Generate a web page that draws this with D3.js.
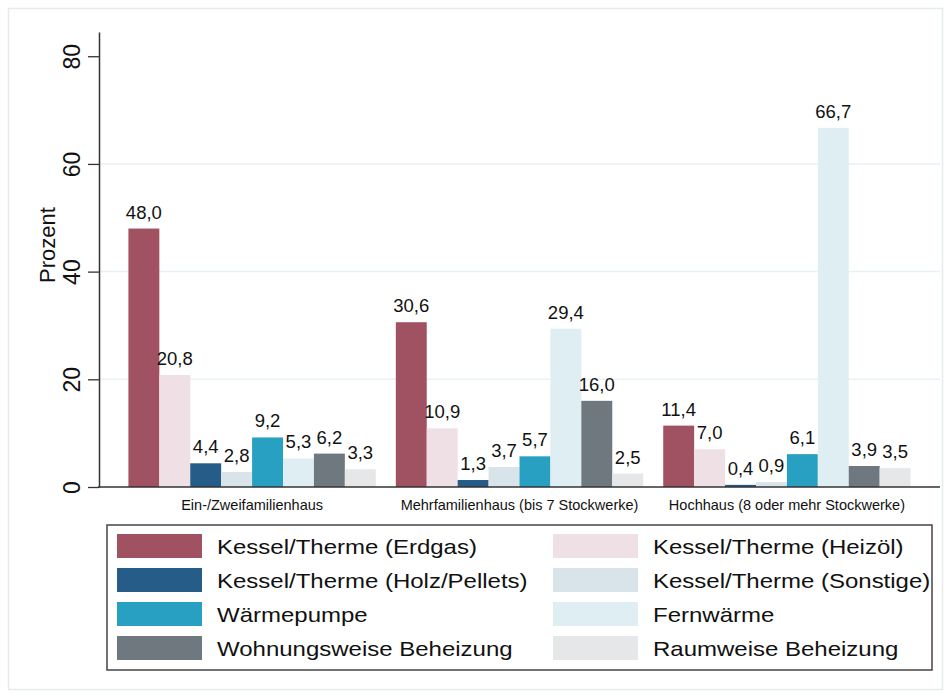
<!DOCTYPE html>
<html><head><meta charset="utf-8">
<script src="https://cdn.jsdelivr.net/npm/d3@7"></script>
<style>body{margin:0;background:#fff}svg{display:block}text{font-family:"Liberation Sans",Arial,sans-serif;fill:#111}</style>
</head><body>
<svg id="c" width="951" height="697"></svg>
<script>
const categories = ["Ein-/Zweifamilienhaus", "Mehrfamilienhaus (bis 7 Stockwerke)", "Hochhaus (8 oder mehr Stockwerke)"];
const seriesNames = ["Kessel/Therme (Erdgas)", "Kessel/Therme (Heizöl)", "Kessel/Therme (Holz/Pellets)", "Kessel/Therme (Sonstige)", "Wärmepumpe", "Fernwärme", "Wohnungsweise Beheizung", "Raumweise Beheizung"];
const seriesColors = ["#a05262", "#eee0e4", "#265d88", "#d9e3ea", "#27a0c1", "#dfeef2", "#6e787e", "#e6e7e9"];
const valuesEin = [48.0, 20.8, 4.4, 2.8, 9.2, 5.3, 6.2, 3.3];
const valuesMehr = [30.6, 10.9, 1.3, 3.7, 5.7, 29.4, 16.0, 2.5];
const valuesHoch = [11.4, 7.0, 0.4, 0.9, 6.1, 66.7, 3.9, 3.5];
const yTicks = [0, 20, 40, 60, 80];
const gridTicks = [20, 40, 60];

const values = [valuesEin, valuesMehr, valuesHoch];
const svg = d3.select("#c");
const loc = d3.formatLocale({decimal: ",", thousands: ".", grouping: [3], currency: ["", "€"]});
const fmt = loc.format(".1f");

// outer frame
svg.append("rect").attr("x", 8.5).attr("y", 8.5).attr("width", 934).attr("height", 681)
  .attr("fill", "none").attr("stroke", "#e3ebee").attr("stroke-width", 1.5);

const y = d3.scaleLinear().domain([0, 84.5]).range([487, 32]);
const x0 = d3.scaleBand().domain(categories).range([99, 940]).paddingInner(0.075).paddingOuter(0.11);
const x1 = d3.scaleBand().domain(seriesNames).range([0, x0.bandwidth()]).padding(0);

// gridlines
svg.append("g").selectAll("line").data(gridTicks).join("line")
  .attr("x1", 100).attr("x2", 940).attr("y1", d => y(d)).attr("y2", d => y(d))
  .attr("stroke", "#e8f1f4").attr("stroke-width", 1.5);

// bars
const groups = svg.append("g").selectAll("g").data(categories).join("g")
  .attr("transform", d => `translate(${x0(d)},0)`);
groups.selectAll("rect").data((d, i) => values[i].map((v, j) => ({v, s: seriesNames[j], c: seriesColors[j]})))
  .join("rect")
  .attr("x", d => x1(d.s)).attr("width", x1.bandwidth())
  .attr("y", d => y(d.v)).attr("height", d => y(0) - y(d.v))
  .attr("fill", d => d.c);
groups.selectAll("text.val").data((d, i) => values[i].map((v, j) => ({v, s: seriesNames[j]})))
  .join("text").attr("class", "val")
  .attr("x", d => x1(d.s) + x1.bandwidth() / 2).attr("y", d => y(d.v) - 10)
  .attr("text-anchor", "middle").style("font-size", "18.5px")
  .text(d => fmt(d.v));

// y axis
const yAxis = svg.append("g").attr("transform", "translate(99,0)")
  .call(d3.axisLeft(y).tickValues(yTicks).tickSize(11).tickSizeOuter(0).tickPadding(0));
yAxis.select(".domain").attr("stroke", "#333").attr("stroke-width", 1.5);
yAxis.selectAll(".tick line").attr("stroke", "#333").attr("stroke-width", 1.3);
yAxis.selectAll(".tick text").attr("x", null).attr("dy", null)
  .attr("transform", "translate(-19,0) rotate(-90)")
  .attr("text-anchor", "middle").attr("y", 0)
  .style("font-size", "23px").style("font-family", "Liberation Sans, Arial, sans-serif").attr("fill", "#111");

svg.append("text").attr("transform", "translate(55,245) rotate(-90)")
  .attr("text-anchor", "middle").style("font-size", "22px").text("Prozent");

// x axis
const xAxis = svg.append("g").attr("transform", `translate(0,${y(0)})`)
  .call(d3.axisBottom(x0).tickSize(0).tickSizeOuter(0).tickPadding(0));
xAxis.select(".domain").attr("stroke", "#333").attr("stroke-width", 1.5).attr("d", "M98,0H940");
xAxis.selectAll(".tick text").attr("y", 0).attr("dy", "23px")
  .style("font-size", "14.5px").style("font-family", "Liberation Sans, Arial, sans-serif").attr("fill", "#111");

// legend
svg.append("rect").attr("x", 107).attr("y", 525).attr("width", 825).attr("height", 145)
  .attr("fill", "#fff").attr("stroke", "#444").attr("stroke-width", 1.5);
const colX = [117, 553];
const leg = svg.append("g").selectAll("g").data(seriesNames).join("g")
  .attr("transform", (d, i) => `translate(${colX[i % 2]},${534 + Math.floor(i / 2) * 34})`);
leg.append("rect").attr("width", 85).attr("height", 24).attr("fill", (d, i) => seriesColors[i]);
leg.append("text").attr("transform", "translate(100,19.5) scale(1.2,1)")
  .style("font-size", "20px").text(d => d);
</script>
</body></html>
